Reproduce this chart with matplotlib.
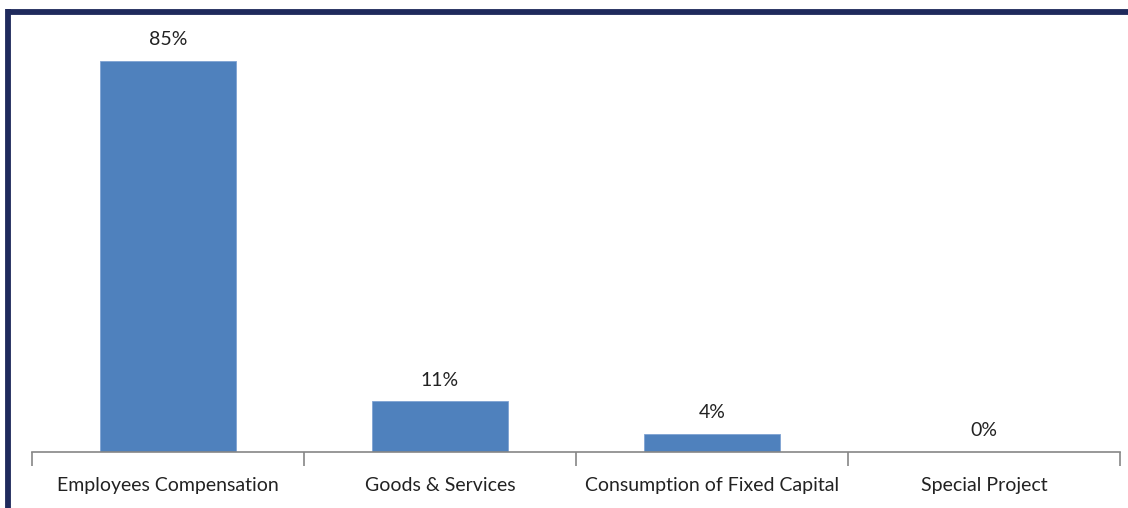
import numpy as np
import matplotlib.pyplot as plt
from matplotlib.lines import Line2D

categories = ['Employees Compensation', 'Goods & Services',
              'Consumption of Fixed Capital', 'Special Project']
shares = [85, 11, 4, 0]
labels = ['85%', '11%', '4%', '0%']

plt.rcParams['font.family'] = ['Lato', 'DejaVu Sans']

fig = plt.figure(figsize=(11.28, 5.08), dpi=100)
ax = fig.add_axes([32/1128, 56/508, 1088/1128, 438/508])

x = np.arange(len(categories))
ax.bar(x, shares, width=0.5, color='#4F81BD', edgecolor='#7FA3D3', linewidth=0.6)

for xi, v, s in zip(x, shares, labels):
    ax.annotate(s, (xi, v), xytext=(0, 9), textcoords='offset points',
                ha='center', va='bottom', fontsize=14, color='#222222')

ax.set_xlim(-0.5, len(categories) - 0.5)
ax.set_ylim(0, 95.2)
ax.set_xticks(x)
ax.set_xticklabels(categories, fontsize=14, color='#222222')
ax.tick_params(axis='x', length=0, pad=18)
ax.set_xticks(np.arange(len(categories) + 1) - 0.5, minor=True)
ax.tick_params(axis='x', which='minor', length=10, width=1.2, color='#868686')
ax.set_yticks([])
for side in ['top', 'right', 'left']:
    ax.spines[side].set_visible(False)
ax.spines['bottom'].set_color('#868686')
ax.spines['bottom'].set_linewidth(1.2)

# dark frame along top and left edge
fig.add_artist(Line2D([8/1128, 1], [1 - 11.5/508] * 2, color='#1F2A5C', lw=4.2,
                      transform=fig.transFigure, solid_capstyle='butt'))
fig.add_artist(Line2D([8/1128] * 2, [0, 1 - 9/508], color='#1F2A5C', lw=4.2,
                      transform=fig.transFigure, solid_capstyle='butt'))

fig.savefig('out.png', dpi=100)
